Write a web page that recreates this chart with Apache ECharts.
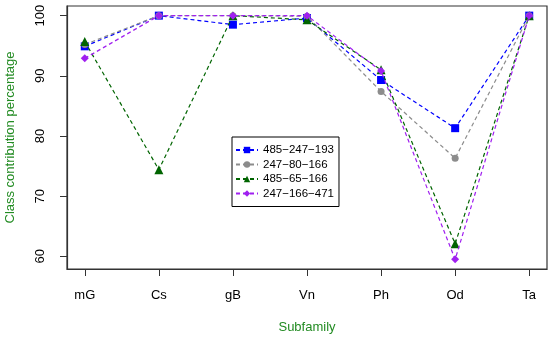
<!DOCTYPE html>
<html><head><meta charset="utf-8">
<script src="https://cdn.jsdelivr.net/npm/echarts@6/dist/echarts.min.js"></script>
<style>html,body{margin:0;padding:0;background:#fff}#c{width:550px;height:339px}</style>
</head><body><div id="c"></div>
<script>
const categories = ['mG','Cs','gB','Vn','Ph','Od','Ta'];
const seriesNames = ['485\u2212247\u2212193','247\u221280\u2212166','485\u221265\u2212166','247\u2212166\u2212471'];
const s1 = [94.9, 100, 98.5, 99.6, 89.3, 81.3, 100];
const s2 = [95.2, 100, 100, 99.9, 87.4, 76.3, 100];
const s3 = [95.7, 74.4, 100, 99.3, 91.0, 62.1, 100];
const s4 = [92.9, 100, 100, 100, 90.8, 59.5, 100];
const yTicks = [60, 70, 80, 90, 100];
const xTicks = [1, 2, 3, 4, 5, 6, 7];

const colors = ['#0000ff', '#8c8c8c', '#006400', '#a020f0'];
const symbols = ['rect', 'circle', 'triangle', 'diamond'];
const sizes = [8, 7, 9, 8];
const data = [s1, s2, s3, s4];
const font = '"Liberation Sans", Arial, Helvetica, sans-serif';

const chart = echarts.init(document.getElementById('c'), null, {renderer: 'canvas'});
chart.setOption({
  animation: false,
  backgroundColor: '#fff',
  textStyle: {fontFamily: font},
  grid: {left: 67, right: 3, top: 6, bottom: 70, containLabel: false, outerBoundsMode: 'none',
    show: true, borderColor: '#333', borderWidth: 1.2, backgroundColor: 'transparent'},
  legend: {
    orient: 'vertical', left: 232, top: 137,
    backgroundColor: '#fff', borderColor: '#000', borderWidth: 1,
    padding: [7, 5, 7, 3], itemWidth: 22, itemHeight: 8, itemGap: 2.5,
    textStyle: {fontFamily: font, fontSize: 11.5, color: '#000', lineHeight: 11},
    data: seriesNames
  },
  xAxis: {
    type: 'value', min: 0.76, max: 7.24,
    name: 'Subfamily', nameLocation: 'middle', nameGap: 52,
    nameTextStyle: {color: '#228b22', fontSize: 13, fontFamily: font},
    axisLine: {show: true, lineStyle: {color: '#333', width: 1.2}},
    axisTick: {show: true, length: 7, customValues: xTicks, lineStyle: {color: '#333'}},
    axisLabel: {customValues: xTicks, margin: 20, fontSize: 13, color: '#000', fontFamily: font,
      formatter: v => categories[Math.round(v) - 1]},
    splitLine: {show: false}
  },
  yAxis: {
    type: 'value', min: 57.9, max: 101.6,
    name: 'Class contribution percentage', nameLocation: 'middle', nameGap: 50,
    nameTextStyle: {color: '#228b22', fontSize: 13, fontFamily: font},
    axisLine: {show: true, lineStyle: {color: '#333', width: 1.2}},
    axisTick: {show: true, length: 7, customValues: yTicks, lineStyle: {color: '#333'}},
    axisLabel: {customValues: yTicks, margin: 20, rotate: 90, fontSize: 13, color: '#000', fontFamily: font},
    splitLine: {show: false}
  },
  series: data.map((d, i) => ({
    name: seriesNames[i], type: 'line',
    data: d.map((v, j) => [xTicks[j], v]),
    symbol: symbols[i], symbolSize: sizes[i],
    itemStyle: {color: colors[i]},
    lineStyle: {color: colors[i], type: [4, 3], width: 1.2},
    z: 2 + i
  }))
});
</script></body></html>
